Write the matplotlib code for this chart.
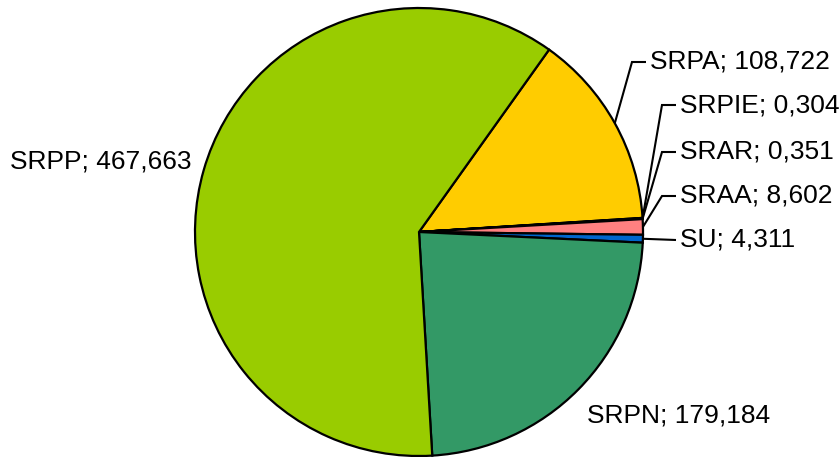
import numpy as np
import matplotlib
matplotlib.use("Agg")
import matplotlib.pyplot as plt

categories = ["SRPA", "SRPIE", "SRAR", "SRAA", "SU", "SRPN", "SRPP"]
values = [108.722, 0.304, 0.351, 8.602, 4.311, 179.184, 467.663]
value_labels = ["108,722", "0,304", "0,351", "8,602", "4,311", "179,184", "467,663"]
colors = ["#FFCC00", "#CCFFFF", "#660066", "#FF8080", "#0066CC", "#339966", "#99CC00"]

W, H = 840, 457
fig = plt.figure(figsize=(W / 100, H / 100), dpi=100)
ax = fig.add_axes([0, 0, 1, 1])

cx, cy, R = 419, H - 232, 224
start = 54.5
wedges, _ = ax.pie(values, colors=colors, startangle=start, counterclock=False,
                   center=(cx, cy), radius=R, frame=True,
                   wedgeprops=dict(edgecolor="black", linewidth=1.6,
                                   joinstyle="miter"))
ax.set_xlim(0, W)
ax.set_ylim(0, H)
ax.axis("off")

font = dict(family="Liberation Sans", fontsize=19, color="black")

# label layout (pixel positions, y measured from top)
label_pos = {
    "SRPA": (650, 62, 632),
    "SRPIE": (680, 105, 662),
    "SRAR": (680, 152, 662),
    "SRAA": (680, 196, 662),
    "SU": (680, 240, None),
}

for w, cat, vl in zip(wedges, categories, value_labels):
    mid = np.deg2rad((w.theta1 + w.theta2) / 2)
    ex, ey = cx + R * np.cos(mid), cy + R * np.sin(mid)
    text = f"{cat}; {vl}"
    if cat in label_pos:
        tx, ty, bend = label_pos[cat]
        ty = H - ty
        if bend is None:
            ax.plot([ex, tx - 4], [ey, ty], color="black", lw=1.5, solid_capstyle="butt")
        else:
            ax.plot([ex, bend, tx - 4], [ey, ty, ty], color="black", lw=1.5,
                    solid_joinstyle="miter", solid_capstyle="butt")
        ax.text(tx, ty, text, ha="left", va="center", **font)
    elif cat == "SRPP":
        ax.text(192, H - 162, text, ha="right", va="center", **font)
    elif cat == "SRPN":
        ax.text(587, H - 415, text, ha="left", va="center", **font)

fig.savefig("out.png", dpi=100)
